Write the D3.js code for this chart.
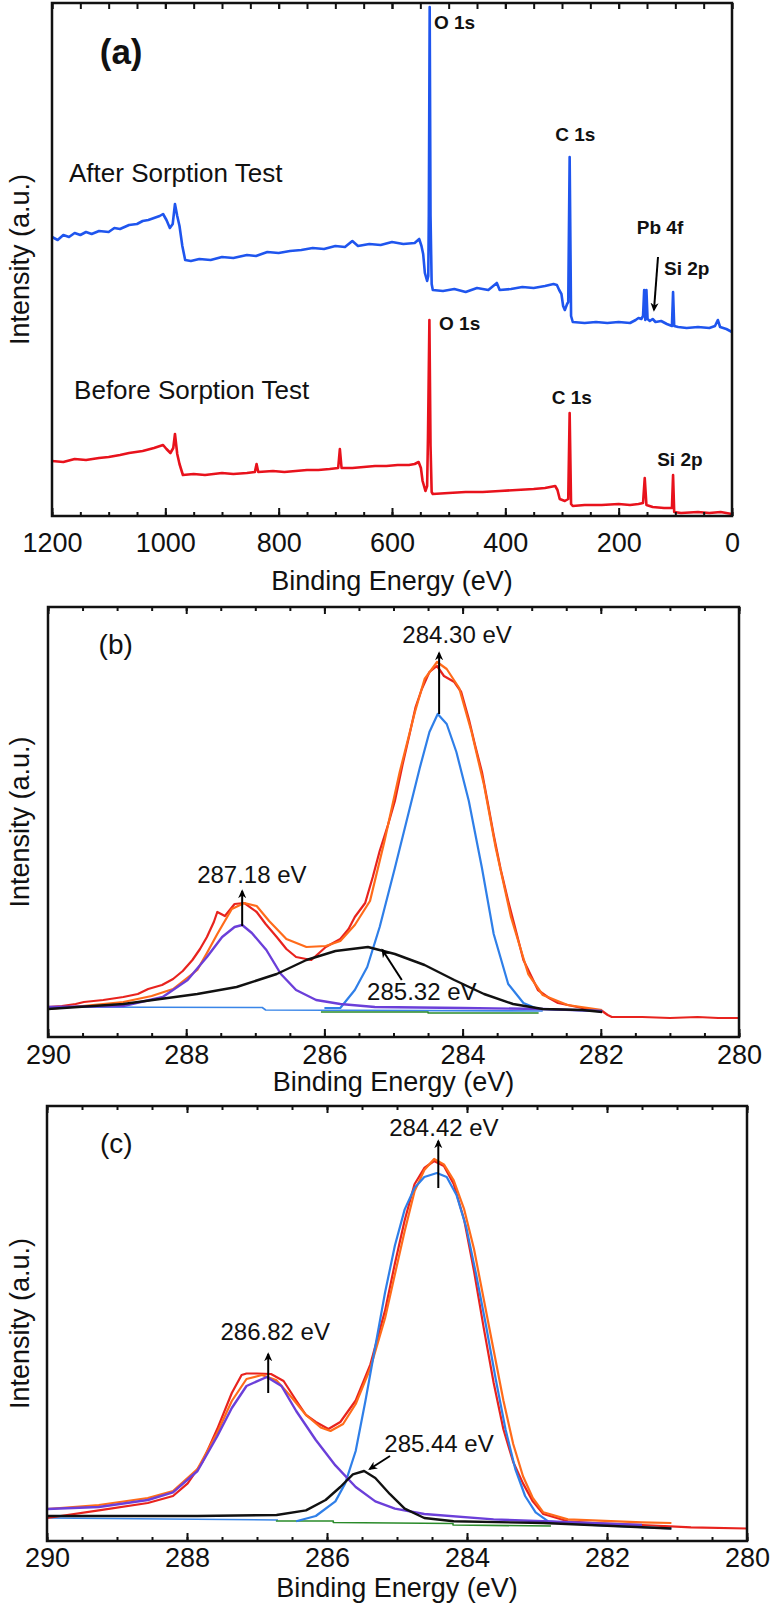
<!DOCTYPE html>
<html><head><meta charset="utf-8">
<script src="https://cdn.jsdelivr.net/npm/d3@7"></script>
<style>body{margin:0;background:#fff} svg{display:block} text{font-family:Arial,"Liberation Sans",sans-serif}</style>
</head><body><svg id="chart" width="775" height="1606"></svg>
<script>
// ---------- tick labels ----------
const surveyTicks = [1200, 1000, 800, 600, 400, 200, 0];
const surveyMinor = d3.range(0, 1201, 50);
const c1sTicks = [290, 288, 286, 284, 282, 280];
const c1sMinor = d3.range(280, 290.01, 0.5);

// ---------- (a) survey spectra [eV, a.u.] ----------
const surveyAfter = [[1200,279],[1190,276],[1180,281],[1170,279],[1160,283],[1150,281],[1140,284],[1130,282],[1117,285],[1100,284],[1090,288],[1080,287],[1064,291],[1050,292],[1040,295],[1030,296],[1020,298],[1010,300],[1004,302],[998,296],[992,288],[987,292],[983,312],[979,300],[975,290],[970,270],[965,256],[955,255],[940,257],[920,256],[900,259],[880,258],[856,261],[840,260],[820,264],[800,263],[780,265],[760,266],[740,268],[720,267],[700,270],[683,269],[670,275],[660,270],[640,272],[620,271],[600,274],[580,272],[560,273],[552,277],[548,270],[545,262],[542,243],[538,235],[536,240],[535,303],[533.5,509],[532,300],[530,232],[528,226],[510,225],[490,227],[470,224],[450,228],[430,226],[415,233],[410,226],[390,227],[370,229],[350,228],[330,230],[315,232],[309,231],[305,226],[301,222],[298,210],[295,206],[291,212],[289,214],[286.5,359],[284,200],[281,194],[260,193],[240,194],[220,193],[200,194],[180,193],[170,196],[165,198],[160,197],[157,200],[155,226],[153,196],[151,226],[149,197],[145,195],[140,197],[135,194],[125,195],[115,192],[106,190],[104,224],[102,190],[95,189],[80,188],[60,189],[40,188],[30,190],[25,196],[21,189],[10,187],[0,184]];
const surveyBefore = [[1200,55],[1180,54],[1160,57],[1140,56],[1117,58],[1100,59],[1080,61],[1064,63],[1040,65],[1020,68],[1004,71],[998,67],[991,63],[986,68],[983,82],[979,62],[975,52],[969,41],[950,42],[930,41],[900,43],[880,42],[856,43],[842,44],[839,52],[836,44],[810,45],[790,44],[770,45],[750,46],[730,46],[710,47],[695,48],[692,67],[689,48],[670,48],[650,49],[630,50],[610,50],[590,51],[570,51],[560,52],[553,54],[549,48],[546,35],[541,25],[538,30],[536.5,79],[534,196],[532,70],[530,24],[528,22],[500,23],[470,24],[440,24],[410,25],[380,26],[350,27],[330,28],[312,30],[308,26],[304,17],[295,15],[289,17],[286.5,103],[284,12],[281,10],[260,11],[230,11],[200,12],[180,11],[165,12],[157,13],[154,38],[151,11],[140,9],[120,8],[106,8],[104,41],[102,4],[90,3],[60,4],[40,3],[20,4],[0,2]];

// ---------- (b) C 1s before ----------
const bRaw = [[290,30],[289.8,31],[289.6,33],[289.48,35],[289.2,37],[288.91,40],[288.7,43],[288.55,48],[288.35,52],[288.19,58],[288.05,66],[287.91,77],[287.8,88],[287.7,100],[287.6,115],[287.55,125],[287.44,121],[287.3,133],[287.16,134],[286.98,125],[286.85,113],[286.69,100],[286.55,88],[286.41,80],[286.19,77],[285.98,90],[285.77,98],[285.65,108],[285.56,120],[285.41,134],[285.3,160],[285.2,186],[285.08,212],[284.98,236],[284.87,272],[284.77,302],[284.68,330],[284.59,348],[284.48,365],[284.37,371],[284.27,361],[284.12,355],[284.02,345],[283.91,318],[283.82,292],[283.72,265],[283.63,232],[283.55,202],[283.45,168],[283.34,136],[283.22,104],[283.12,77],[283.0,60],[282.91,47],[282.75,39],[282.62,34],[282.27,29],[281.98,26],[281.9,22],[281.84,20],[281.4,20],[281,19],[280.6,20],[280.3,19],[280,19]];
const bEnv = [[290,28],[289.5,31],[288.91,35],[288.5,41],[288.19,48],[287.84,67],[287.7,84],[287.55,103],[287.34,128],[287.16,134],[286.98,131],[286.8,116],[286.55,98],[286.26,90],[285.98,91],[285.77,96],[285.56,112],[285.34,136],[285.13,196],[284.91,265],[284.69,325],[284.55,358],[284.37,375],[284.23,368],[284.05,349],[283.87,305],[283.69,252],[283.52,189],[283.3,120],[283.05,63],[282.84,42],[282.48,32],[281.98,27]];
const bPeak1 = [[286.0,29],[285.77,29],[285.56,47],[285.38,70],[285.2,110],[284.98,169],[284.8,219],[284.62,269],[284.48,305],[284.36,323],[284.23,313],[284.09,285],[283.91,236],[283.72,169],[283.55,103],[283.34,53],[283.12,34],[282.91,28],[281.98,26]];
const bPeak2 = [[290,28],[288.91,33],[287.84,43],[287.27,50],[286.69,63],[286.26,77],[285.84,86],[285.37,90],[284.98,83],[284.55,72],[284.12,57],[283.69,43],[283.27,33],[282.84,28],[282.27,27],[281.98,25]];
const bPeak3 = [[290,30],[288.91,31],[288.34,40],[287.98,57],[287.7,80],[287.48,100],[287.3,110],[287.19,112],[287.05,104],[286.84,87],[286.63,63],[286.41,47],[286.12,37],[285.77,33],[285.27,30],[284,29],[282.84,28],[281.98,26]];
const bBack = [[290,30],[286.9,29.5],[286.85,27],[282.84,26]];
const bGreen = [[286.05,25],[284.5,25],[284.5,24],[282.9,24]];

// ---------- (c) C 1s after ----------
const cRaw = [[290,23],[289.26,30.6],[288.56,38],[288.2,45],[287.99,57.6],[287.78,79],[287.57,111.7],[287.36,148],[287.22,166],[287.15,167.5],[287.0,167.5],[286.8,167],[286.62,160],[286.44,140.5],[286.3,126],[286.16,119],[285.98,112],[285.81,119],[285.59,140.5],[285.38,176.6],[285.17,230.6],[285.03,277.5],[284.89,320.8],[284.75,356.8],[284.61,373],[284.47,380],[284.33,375],[284.19,357],[284.04,321],[283.9,270],[283.76,212.6],[283.62,158.5],[283.48,111.7],[283.34,79],[283.2,57.6],[283.06,39.6],[282.91,27],[282.56,19.7],[282.21,18],[281.5,16],[280.8,13.6],[280,12.5]];
const cEnv = [[290,32],[289.26,36],[288.56,43],[288.2,50],[287.85,72],[287.57,108],[287.36,140],[287.15,162],[286.93,166],[286.72,160.6],[286.51,144],[286.3,126],[286.09,113.5],[285.95,110],[285.77,117],[285.59,137],[285.38,173],[285.17,223],[285.03,266.7],[284.89,310],[284.75,349.6],[284.61,371],[284.47,382],[284.33,376.6],[284.19,360.6],[284.04,331.6],[283.9,292],[283.76,241.5],[283.62,191],[283.48,140.5],[283.34,97],[283.2,64.8],[283.06,43],[282.91,28.7],[282.56,21.6],[281.5,18.7],[281.08,18]];
const cPeak1 = [[286.44,19.8],[286.16,25],[285.88,39.6],[285.74,57.6],[285.59,90],[285.45,140.5],[285.31,194.6],[285.17,248.7],[285.03,295.5],[284.89,331.6],[284.75,353],[284.61,364],[284.43,368],[284.29,364],[284.15,346],[284.01,313.5],[283.87,266.7],[283.73,216],[283.59,162],[283.45,111.7],[283.31,72],[283.17,45],[283.02,28.7],[282.84,19.7],[282.21,16],[281.08,12.5]];
const cPeak2 = [[290,25],[287.85,25],[286.72,26],[286.3,30.6],[286.02,41],[285.81,54],[285.63,66.6],[285.47,70],[285.31,63],[285.1,46.8],[284.89,32.4],[284.61,23],[284.19,19.7],[282.91,18],[281.08,12.5]];
const cPeak3 = [[290,32],[289.26,34],[288.56,41],[288.2,48.6],[287.85,70],[287.57,104.5],[287.36,133],[287.15,155],[286.86,164],[286.65,155],[286.44,130],[286.16,101],[285.88,75.6],[285.59,54],[285.31,39.6],[285.03,32.4],[284.61,27],[283.62,21.6],[282.91,19.7],[281.5,16]];
const cBack = [[290,23],[286.7,21]];
const cGreen = [[286.73,20],[285.91,20],[285.91,18.5],[284.2,17.5],[284.2,16],[282.8,15]];

// ---------- annotations [text, eV, a.u., anchor, size, weight] ----------
const aLabels = [["(a)",1078,461,"middle",35,"bold"],["After Sorption Test",1170,341,"start",26,"normal"],["Before Sorption Test",1161,124,"start",26,"normal"],
  ["O 1s",526,492,"start",19,"bold"],["C 1s",312,380,"start",19,"bold"],["Pb 4f",168,287,"start",19,"bold"],["Si 2p",120,246,"start",19,"bold"],
  ["O 1s",517,191,"start",19,"bold"],["C 1s",318,117,"start",19,"bold"],["Si 2p",132,55,"start",19,"bold"]];
const aArrows = [[[130.6,259],[137.7,206]]];
const bLabels = [["(b)",289.02,390,"middle",28,"normal"],["284.30 eV",284.08,400,"middle",24,"normal"],["287.18 eV",287.05,160,"middle",24,"normal"],["285.32 eV",284.59,43.5,"middle",24,"normal"]];
const bArrows = [[[284.34,323],[284.34,384]],[[287.19,111],[287.19,146]],[[284.88,57],[285.16,87]]];
const cLabels = [["(c)",289.01,395,"middle",28,"normal"],["284.42 eV",284.33,411,"middle",24,"normal"],["286.82 eV",286.74,207,"middle",24,"normal"],["285.44 eV",284.40,95.5,"middle",24,"normal"]];
const cArrows = [[[284.41,353],[284.41,400]],[[286.84,148],[286.84,187]],[[285.1,85],[285.39,72]]];

const svg = d3.select("#chart");
svg.append("defs").append("marker").attr("id","arr").attr("viewBox","0 0 10 10")
  .attr("refX",8).attr("refY",5).attr("markerWidth",4.5).attr("markerHeight",4.5).attr("orient","auto")
  .append("path").attr("d","M0,0.5 L10,5 L0,9.5 L3,5 z").attr("fill","#000");

function panel(cfg){
  const x = d3.scaleLinear().domain(cfg.xd).range([cfg.l, cfg.r]);
  const y = d3.scaleLinear().domain(cfg.yd).range([cfg.b, cfg.t]);
  const g = svg.append("g");
  g.append("clipPath").attr("id","clip"+cfg.id).append("rect")
    .attr("x",cfg.l).attr("y",cfg.t).attr("width",cfg.r-cfg.l).attr("height",cfg.b-cfg.t);
  const line = d3.line().x(d=>x(d[0])).y(d=>y(d[1]));
  cfg.series.forEach(s=>{
    g.append("path").attr("d",line(s.data)).attr("fill","none").attr("stroke",s.color)
      .attr("stroke-width",s.w).attr("stroke-linejoin","round").attr("clip-path","url(#clip"+cfg.id+")");
  });
  const fmt = d3.format("d");
  const bMaj = g.append("g").attr("transform",`translate(0,${cfg.b})`)
    .call(d3.axisBottom(x).tickValues(cfg.ticks).tickSize(-8).tickPadding(cfg.pad).tickFormat(fmt));
  const bMin = g.append("g").attr("transform",`translate(0,${cfg.b})`)
    .call(d3.axisBottom(x).tickValues(cfg.minor).tickSize(-4).tickFormat(""));
  const tMin = g.append("g").attr("transform",`translate(0,${cfg.t})`)
    .call(d3.axisTop(x).tickValues(cfg.minor).tickSize(cfg.topMinor).tickFormat(""));
  const tMaj = g.append("g").attr("transform",`translate(0,${cfg.t})`)
    .call(d3.axisTop(x).tickValues(cfg.ticks).tickSize(cfg.topMajor).tickFormat(""));
  [bMaj,bMin,tMin,tMaj].forEach(a=>{a.select(".domain").remove(); a.selectAll("line").attr("stroke","#111").attr("stroke-width",2);});
  bMaj.selectAll("text").attr("font-size",27).attr("fill","#111").attr("font-family","Arial, 'Liberation Sans', sans-serif");
  g.append("rect").attr("x",cfg.l).attr("y",cfg.t).attr("width",cfg.r-cfg.l).attr("height",cfg.b-cfg.t)
    .attr("fill","none").attr("stroke","#111").attr("stroke-width",2.5);
  g.append("text").attr("x",(cfg.l+cfg.r)/2).attr("y",cfg.titleY).attr("text-anchor","middle")
    .attr("dominant-baseline","middle").attr("font-size",27).attr("fill","#111").text("Binding Energy (eV)");
  g.append("text").attr("transform",`translate(22,${(cfg.t+cfg.b)/2}) rotate(-90)`).attr("text-anchor","middle")
    .attr("dominant-baseline","middle").attr("font-size",27).attr("fill","#111").text("Intensity (a.u.)");
  cfg.labels.forEach(l=>{
    g.append("text").attr("x",x(l[1])).attr("y",y(l[2])).attr("text-anchor",l[3]).attr("dominant-baseline","middle")
      .attr("font-size",l[4]).attr("font-weight",l[5]).attr("fill","#111").text(l[0]);
  });
  cfg.arrows.forEach(a=>{
    g.append("line").attr("x1",x(a[0][0])).attr("y1",y(a[0][1])).attr("x2",x(a[1][0])).attr("y2",y(a[1][1]))
      .attr("stroke","#000").attr("stroke-width",2).attr("marker-end","url(#arr)");
  });
}

panel({id:"a", l:52, r:732, t:3, b:516, xd:[1200,0], yd:[0,513], ticks:surveyTicks, minor:surveyMinor, pad:17, topMinor:-6, topMajor:-6, titleY:583,
  series:[{data:surveyAfter,color:"#1f55ee",w:2.6},{data:surveyBefore,color:"#e8121c",w:2.6}], labels:aLabels, arrows:aArrows});
panel({id:"b", l:48, r:739, t:607, b:1037, xd:[290,280], yd:[0,430], ticks:c1sTicks, minor:c1sMinor, pad:8, topMinor:-4, topMajor:-7, titleY:1084,
  series:[{data:bBack,color:"#3a86e8",w:1.6},{data:bGreen,color:"#2a8a2a",w:1.6},{data:bRaw,color:"#e8231e",w:2.2},{data:bEnv,color:"#ff6b1a",w:2.2},
          {data:bPeak1,color:"#2f7fe8",w:2.2},{data:bPeak3,color:"#6b3fd9",w:2.4},{data:bPeak2,color:"#111111",w:2.4}], labels:bLabels, arrows:bArrows});
panel({id:"c", l:47, r:747, t:1106, b:1541, xd:[290,280], yd:[0,435], ticks:c1sTicks, minor:c1sMinor, pad:7, topMinor:-4, topMajor:-7, titleY:1590,
  series:[{data:cBack,color:"#3a86e8",w:1.6},{data:cGreen,color:"#2a8a2a",w:1.6},{data:cRaw,color:"#e8231e",w:2.2},{data:cEnv,color:"#ff6b1a",w:2.2},
          {data:cPeak1,color:"#2f7fe8",w:2.2},{data:cPeak3,color:"#6b3fd9",w:2.4},{data:cPeak2,color:"#111111",w:2.4}], labels:cLabels, arrows:cArrows});
</script></body></html>
